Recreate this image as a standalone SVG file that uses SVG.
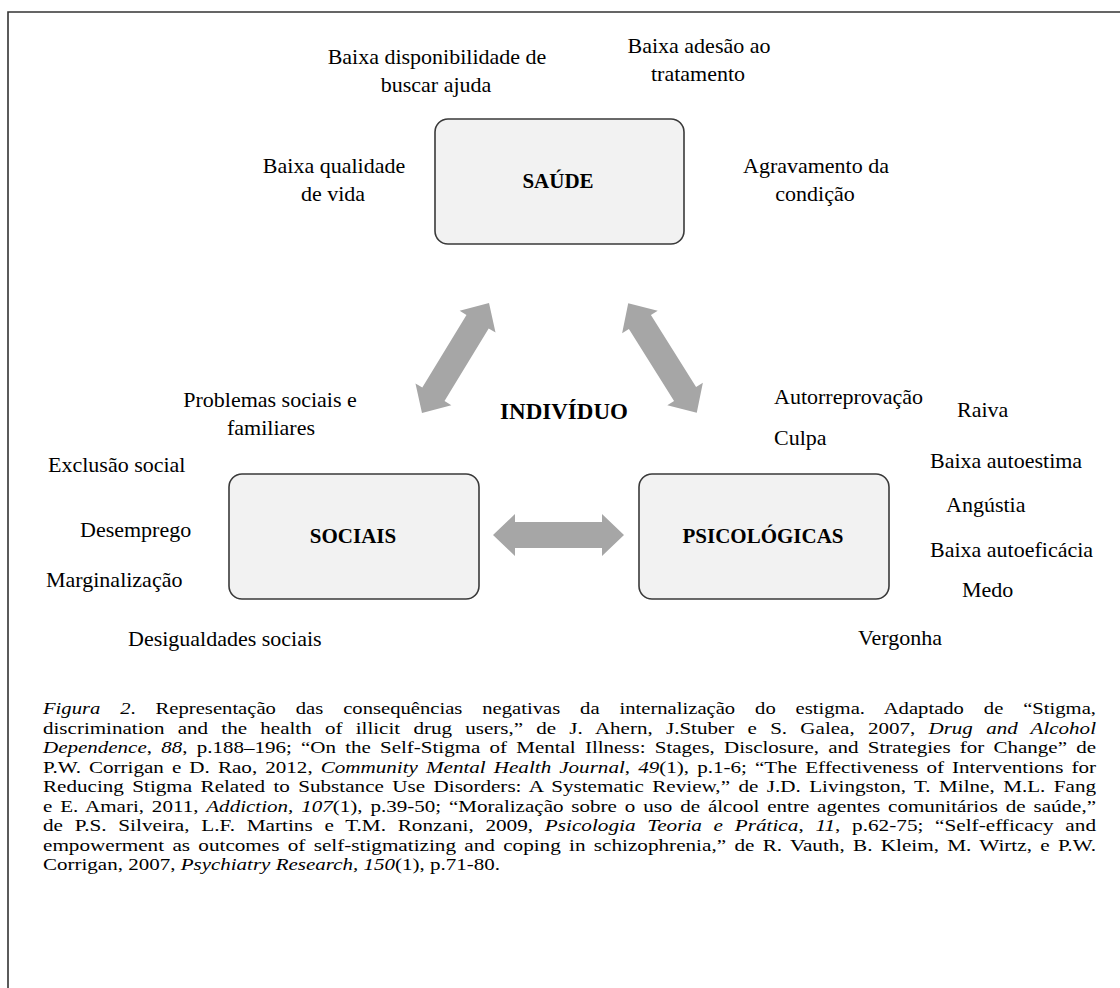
<svg xmlns="http://www.w3.org/2000/svg" width="1120" height="988" viewBox="0 0 1120 988">
<style>
  text { font-family: "Liberation Serif", "Times New Roman", serif; fill: #000; }
  .lbl { font-size: 22px; }
  .ttl { font-size: 21px; font-weight: bold; text-anchor: middle; }
  .mid { text-anchor: middle; }
  .box { fill: #f2f2f2; stroke: #3a3a3a; stroke-width: 1.6; }
  .arr { fill: #a6a6a6; }
  .cap { font-size: 17.5px; }
  .it { font-style: italic; }
  .frame { stroke: #333; stroke-width: 1.6; fill: none; }
</style>
<rect width="1120" height="988" fill="#fff"/>
<path class="frame" d="M8,988 V12 H1120"/>

<g id="connectors">
  <path class="arr" transform="translate(455.5,358) rotate(121.3)" d="M-64.5,0 L-42.5,-21 L-42.5,-13 L42.5,-13 L42.5,-21 L64.5,0 L42.5,21 L42.5,13 L-42.5,13 L-42.5,21 Z"/>
  <path class="arr" transform="translate(662.5,358) rotate(57.9)" d="M-64.5,0 L-42.5,-21 L-42.5,-13 L42.5,-13 L42.5,-21 L64.5,0 L42.5,21 L42.5,13 L-42.5,13 L-42.5,21 Z"/>
  <path class="arr" transform="translate(558.5,535)" d="M-65.5,0 L-43.5,-21 L-43.5,-13 L43.5,-13 L43.5,-21 L65.5,0 L43.5,21 L43.5,13 L-43.5,13 L-43.5,21 Z"/>
</g>

<g id="saude">
  <rect class="box" x="435" y="119" width="249" height="125" rx="13"/>
  <text class="ttl" x="558" y="188">SAÚDE</text>
  <text class="lbl mid" x="437" y="64">Baixa disponibilidade de</text>
  <text class="lbl mid" x="436" y="92">buscar ajuda</text>
  <text class="lbl mid" x="699" y="53">Baixa adesão ao</text>
  <text class="lbl mid" x="698" y="81">tratamento</text>
  <text class="lbl mid" x="334" y="173">Baixa qualidade</text>
  <text class="lbl mid" x="333" y="201">de vida</text>
  <text class="lbl mid" x="816" y="173">Agravamento da</text>
  <text class="lbl mid" x="815" y="201">condição</text>
</g>

<g id="individuo">
  <text x="564" y="419" font-size="23" font-weight="bold" text-anchor="middle">INDIVÍDUO</text>
</g>

<g id="sociais">
  <rect class="box" x="229" y="474" width="250" height="125" rx="13"/>
  <text class="ttl" x="353" y="543">SOCIAIS</text>
  <text class="lbl mid" x="270" y="407">Problemas sociais e</text>
  <text class="lbl mid" x="271" y="435">familiares</text>
  <text class="lbl" x="48" y="472">Exclusão social</text>
  <text class="lbl" x="80" y="537">Desemprego</text>
  <text class="lbl" x="46" y="587">Marginalização</text>
  <text class="lbl" x="128" y="646">Desigualdades sociais</text>
</g>

<g id="psicologicas">
  <rect class="box" x="639" y="474" width="250" height="125" rx="13"/>
  <text class="ttl" x="763" y="543">PSICOLÓGICAS</text>
  <text class="lbl" x="774" y="404">Autorreprovação</text>
  <text class="lbl" x="957" y="417">Raiva</text>
  <text class="lbl" x="774" y="445">Culpa</text>
  <text class="lbl" x="930" y="468">Baixa autoestima</text>
  <text class="lbl" x="946" y="512">Angústia</text>
  <text class="lbl" x="930" y="557">Baixa autoeficácia</text>
  <text class="lbl" x="962" y="597">Medo</text>
  <text class="lbl" x="858" y="645">Vergonha</text>
</g>

<g id="caption" class="cap">
  <text x="43" y="714" word-spacing="12.5" textLength="1053" lengthAdjust="spacingAndGlyphs"><tspan class="it">Figura 2</tspan>. Representação das consequências negativas da internalização do estigma. Adaptado de “Stigma,</text>
  <text x="43" y="733.5" word-spacing="6.65" textLength="1053" lengthAdjust="spacingAndGlyphs">discrimination and the health of illicit drug users,” de J. Ahern, J.Stuber e S. Galea, 2007, <tspan class="it">Drug and Alcohol</tspan></text>
  <text x="43" y="753" word-spacing="3.3" textLength="1053" lengthAdjust="spacingAndGlyphs"><tspan class="it">Dependence</tspan>, <tspan class="it">88</tspan>, p.188–196; “On the Self-Stigma of Mental Illness: Stages, Disclosure, and Strategies for Change” de</text>
  <text x="43" y="772.5" word-spacing="2.3" textLength="1053" lengthAdjust="spacingAndGlyphs">P.W. Corrigan e D. Rao, 2012, <tspan class="it">Community Mental Health Journal</tspan>, <tspan class="it">49</tspan>(1), p.1-6; “The Effectiveness of Interventions for</text>
  <text x="43" y="792" word-spacing="2.6" textLength="1053" lengthAdjust="spacingAndGlyphs">Reducing Stigma Related to Substance Use Disorders: A Systematic Review,” de J.D. Livingston, T. Milne, M.L. Fang</text>
  <text x="43" y="811.5" word-spacing="2.15" textLength="1053" lengthAdjust="spacingAndGlyphs">e E. Amari, 2011, <tspan class="it">Addiction, 107</tspan>(1), p.39-50; “Moralização sobre o uso de álcool entre agentes comunitários de saúde,”</text>
  <text x="43" y="831" word-spacing="5.3" textLength="1053" lengthAdjust="spacingAndGlyphs">de P.S. Silveira, L.F. Martins e T.M. Ronzani, 2009, <tspan class="it">Psicologia Teoria e Prática</tspan>, <tspan class="it">11</tspan>, p.62-75; “Self-efficacy and</text>
  <text x="43" y="850.5" word-spacing="2.5" textLength="1053" lengthAdjust="spacingAndGlyphs">empowerment as outcomes of self-stigmatizing and coping in schizophrenia,” de R. Vauth, B. Kleim, M. Wirtz, e P.W.</text>
  <text x="43" y="870" textLength="457" lengthAdjust="spacingAndGlyphs">Corrigan, 2007, <tspan class="it">Psychiatry Research, 150</tspan>(1), p.71-80.</text>
</g>
</svg>
